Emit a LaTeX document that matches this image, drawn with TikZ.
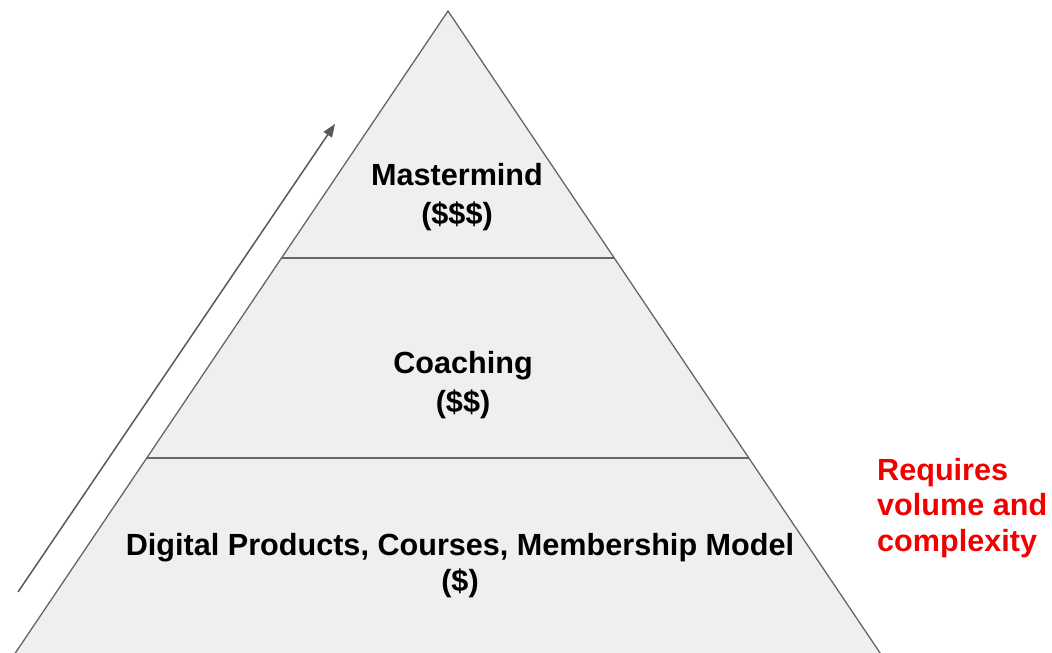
\documentclass[tikz,border=0pt]{standalone}
\usepackage{fontspec}
\setmainfont{Liberation Sans}
\usetikzlibrary{arrows.meta,calc}
\definecolor{pyrfill}{HTML}{EFEFEF}
\definecolor{pyrline}{HTML}{666666}
\definecolor{arrowgray}{HTML}{595959}
\definecolor{reqred}{HTML}{F00000}
\tikzset{
  tierlabel/.style={font=\fontsize{30.6}{38.5}\selectfont\bfseries, align=center, text=black, inner sep=0pt},
  notelabel/.style={font=\fontsize{30.6}{35.5}\selectfont\bfseries, align=left, text=reqred, inner sep=0pt, anchor=west},
  pyramid/.style={fill=pyrfill, draw=pyrline, line width=1.3pt},
  divider/.style={draw=pyrline, line width=1.4pt},
  risearrow/.style={draw=arrowgray, line width=1.5pt, -{Triangle[length=13pt,width=10pt]}}
}
\begin{document}
\begin{tikzpicture}[x=1pt,y=-1pt]
\useasboundingbox (0,0) rectangle (1052,653);
\clip (0,0) rectangle (1052,653);
\coordinate (apex) at (448,11);
\coordinate (bl) at (10.6,660);
\coordinate (br) at (884.8,660);
\path[pyramid] (bl) -- (apex) -- (br) -- cycle;
\coordinate (d1l) at ($(apex)!0.3804!(bl)$);
\coordinate (d1r) at ($(apex)!0.3804!(br)$);
\coordinate (d2l) at ($(apex)!0.6888!(bl)$);
\coordinate (d2r) at ($(apex)!0.6888!(br)$);
\draw[divider] (d1l) -- (d1r);
\draw[divider] (d2l) -- (d2r);
\coordinate (arrs) at (18,592);
\coordinate (arre) at (335,124);
\draw[risearrow] (arrs) -- (arre);
\node[tierlabel] (master) at (457,197) {Mastermind\\(\$\$\$)};
\node[tierlabel] (coach) at (463,385) {Coaching\\(\$\$)};
\node[tierlabel, font=\fontsize{30.6}{36}\selectfont\bfseries] (digital) at (460,566) {Digital Products, Courses, Membership Model\\(\$)};
\node[notelabel] (req) at (877,508) {Requires\\volume and\\complexity};
\end{tikzpicture}
\end{document}
